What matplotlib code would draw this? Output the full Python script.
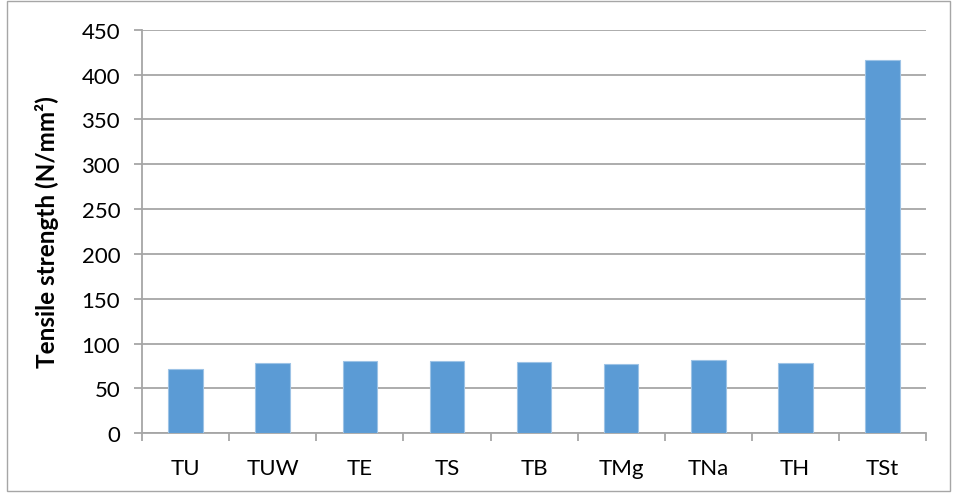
import numpy as np
import matplotlib.pyplot as plt
from matplotlib.patches import Rectangle

samples = ['TU', 'TUW', 'TE', 'TS', 'TB', 'TMg', 'TNa', 'TH', 'TSt']
strength = [71.5, 78, 80.5, 80.5, 79, 77, 81.5, 78, 416]
y_ticks = np.arange(0, 451, 50)

plt.rcParams['font.family'] = ['Lato', 'DejaVu Sans']

fig = plt.figure(figsize=(9.56, 5.02), dpi=100)
ax = fig.add_axes([0.1489, 0.1349, 0.8194, 0.8039])

x = np.arange(len(samples))
ax.bar(x, strength, width=0.4, color='#5B9BD5', edgecolor='#9DC3E6', linewidth=0.8, zorder=3)

ax.set_xlim(-0.5, len(samples) - 0.5)
ax.set_ylim(0, 450)
ax.set_yticks(y_ticks)
ax.set_yticklabels([str(v) for v in y_ticks], fontsize=16)
ax.set_xticks(x)
ax.set_xticklabels(samples, fontsize=16)
ax.set_xticks(np.arange(-0.5, len(samples)), minor=True)

ax.yaxis.grid(True, color='#a6a6a6', linewidth=1.3, zorder=0)
for s in ['top', 'right']:
    ax.spines[s].set_visible(False)
for s in ['left', 'bottom']:
    ax.spines[s].set_color('#a6a6a6')
    ax.spines[s].set_linewidth(1.3)

ax.tick_params(axis='y', length=6, width=1.3, color='#a6a6a6', pad=10)
ax.tick_params(axis='x', which='major', length=0, pad=18)
ax.tick_params(axis='x', which='minor', length=6, width=1.3, color='#a6a6a6')

ax.set_ylabel('Tensile strength (N/mm²)', fontsize=17.5, fontweight='bold')
ax.yaxis.set_label_coords(-0.106, 0.5)

fig.patches.append(Rectangle((7 / 956, 10 / 502), 943 / 956, 490 / 502, transform=fig.transFigure,
                             fill=False, edgecolor='#a6a6a6', linewidth=1.0))

fig.savefig('out.png', dpi=100)
